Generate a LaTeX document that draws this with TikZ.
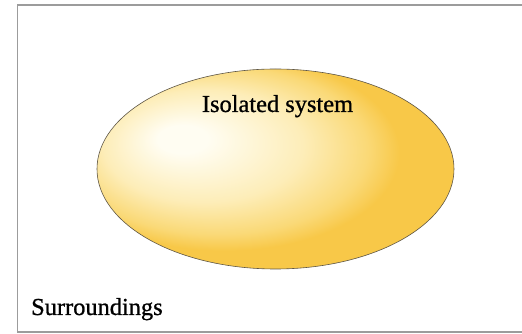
\documentclass[tikz,border=0pt]{standalone}
\usepackage{fontspec}
\setmainfont{Liberation Serif}[FakeBold=0.9]
\usetikzlibrary{shapes.geometric}
\definecolor{hl}{HTML}{FFFDF2}
\definecolor{mid}{HTML}{FDEDB8}
\definecolor{deep}{HTML}{FAD977}
\definecolor{edge}{HTML}{F8C848}
\definecolor{framegray}{HTML}{9C9C9C}
\definecolor{outline}{HTML}{5E5646}
\pgfdeclareradialshading{isoshade}{\pgfpoint{-14bp}{8bp}}{%
  color(0bp)=(hl); color(3.5bp)=(hl); color(14bp)=(mid); color(21bp)=(deep); color(24.5bp)=(edge); color(50bp)=(edge)}
\tikzset{
  frame/.style={draw=framegray, line width=1.3pt},
  system/.style={ellipse, shading=isoshade, draw=outline, line width=0.6pt,
    minimum width=357pt, minimum height=200pt, inner sep=0pt},
  label/.style={font=\fontsize{24.4}{28}\selectfont, inner sep=0pt, text=black}
}
\begin{document}
\begin{tikzpicture}[x=1pt,y=1pt]
  \useasboundingbox (0,0) rectangle (522,334);
  \begin{scope}
    \clip (0,0) rectangle (522,334);
    \draw[frame] (17.5,2) rectangle (530,329);
  \end{scope}
  \node[system] (sys) at (275.5,165) {};
  \node[label, anchor=base] (iso) at (277.5,222) {Isolated system};
  \node[label, anchor=base west] (sur) at (31,19) {Surroundings};
\end{tikzpicture}
\end{document}
